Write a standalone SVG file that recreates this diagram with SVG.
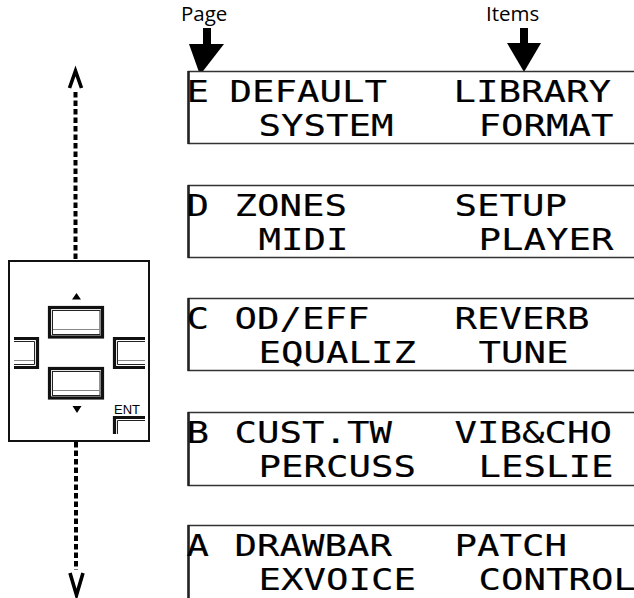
<svg xmlns="http://www.w3.org/2000/svg" width="634" height="598" viewBox="0 0 634 598">
<defs>
<style>
.lcd{font-family:"DejaVu Sans Mono","Liberation Mono",monospace;font-size:31px;fill:#000;stroke:#000;stroke-width:0.15}
.lbl{font-family:"Open Sans","Liberation Sans",sans-serif;font-size:20.5px;fill:#000}
.panel{fill:#fff;stroke:#333;stroke-width:1.5}
.pedge{stroke:#222;stroke-width:2.5}
.key{fill:none;stroke:#111;stroke-width:3.2}
.thin{fill:none;stroke:#222;stroke-width:1}
.hl{fill:none;stroke:#888;stroke-width:1}
.dash{fill:none;stroke:#000;stroke-width:4;stroke-dasharray:5.5 3}
.chev{fill:none;stroke:#000;stroke-width:3.6;stroke-linejoin:miter}
</style>
</defs>
<rect width="634" height="598" fill="#fff"/>

<g id="connectors">
  <path class="dash" d="M75.5 92 V261"/>
  <path class="chev" d="M69.5 88 L75.5 71 L81.5 88"/>
  <path class="dash" d="M76 442 V570"/>
  <path class="chev" d="M70 573 L76.5 595 L83 573"/>
  <rect x="203" y="28" width="8" height="17" fill="#000"/>
  <polygon points="189,44 224,44 200,75" fill="#000"/>
  <rect x="520" y="28" width="8" height="16" fill="#000"/>
  <polygon points="507,43 541,43 524,72" fill="#000"/>
</g>

<g id="label-page"><text class="lbl" x="181" y="21">Page</text></g>
<g id="label-items"><text class="lbl" x="486" y="21">Items</text></g>

<g id="keypad">
  <rect x="9" y="261" width="140" height="180" fill="#fff" stroke="#111" stroke-width="2"/>
  <polygon points="72,299.5 81,299.5 76.5,293" fill="#000"/>
  <polygon points="72.5,406 81.5,406 77,413" fill="#000"/>
  <rect class="key" x="49.5" y="307.5" width="53" height="29.5"/>
  <rect class="thin" x="52.5" y="310.5" width="47.5" height="24"/>
  <line class="hl" x1="53" y1="329.5" x2="99.5" y2="329.5"/>
  <rect class="key" x="49.5" y="368.5" width="53" height="29.5"/>
  <rect class="thin" x="52.5" y="371.5" width="47.5" height="24"/>
  <line class="hl" x1="53" y1="390.5" x2="99.5" y2="390.5"/>
  <path class="key" d="M14 338.5 H37.5 V367.5 H14"/>
  <path class="thin" d="M14 341.5 H34.5 V364.5 H14"/>
  <line class="hl" x1="14" y1="360.5" x2="34" y2="360.5"/>
  <path class="key" d="M145 338.5 H114.5 V367.5 H145"/>
  <path class="thin" d="M145 341.5 H117.5 V364.5 H145"/>
  <line class="hl" x1="118" y1="360.5" x2="145" y2="360.5"/>
  <text x="114" y="413.5" font-family="'Liberation Sans',sans-serif" font-size="13.5" textLength="26" lengthAdjust="spacingAndGlyphs">ENT</text>
  <path class="key" d="M145 417.5 H114.5 V434"/>
  <path class="thin" d="M145 420.5 H117.5 V434"/>
</g>

<g id="panel-E">
  <rect class="panel" x="188.5" y="71.5" width="460" height="72"/>
  <line class="pedge" x1="188.5" y1="71" x2="188.5" y2="144"/>
  <text class="lcd" x="186.5" y="101.5" textLength="22.5" lengthAdjust="spacingAndGlyphs">E</text>
  <text class="lcd" x="229.5" y="101.5" textLength="157.5" lengthAdjust="spacingAndGlyphs">DEFAULT</text>
  <text class="lcd" x="453.5" y="101.5" textLength="157.5" lengthAdjust="spacingAndGlyphs">LIBRARY</text>
  <text class="lcd" x="258.5" y="135.5" textLength="135" lengthAdjust="spacingAndGlyphs">SYSTEM</text>
  <text class="lcd" x="478.5" y="135.5" textLength="135" lengthAdjust="spacingAndGlyphs">FORMAT</text>
</g>

<g id="panel-D">
  <rect class="panel" x="188.5" y="185.5" width="460" height="72"/>
  <line class="pedge" x1="188.5" y1="185" x2="188.5" y2="258"/>
  <text class="lcd" x="186.5" y="215.5" textLength="22.5" lengthAdjust="spacingAndGlyphs">D</text>
  <text class="lcd" x="234.5" y="215.5" textLength="112.5" lengthAdjust="spacingAndGlyphs">ZONES</text>
  <text class="lcd" x="454.5" y="215.5" textLength="112.5" lengthAdjust="spacingAndGlyphs">SETUP</text>
  <text class="lcd" x="258.5" y="249.5" textLength="90" lengthAdjust="spacingAndGlyphs">MIDI</text>
  <text class="lcd" x="478.5" y="249.5" textLength="135" lengthAdjust="spacingAndGlyphs">PLAYER</text>
</g>

<g id="panel-C">
  <rect class="panel" x="188.5" y="298.5" width="460" height="72"/>
  <line class="pedge" x1="188.5" y1="298" x2="188.5" y2="371"/>
  <text class="lcd" x="186.5" y="328.5" textLength="22.5" lengthAdjust="spacingAndGlyphs">C</text>
  <text class="lcd" x="234.5" y="328.5" textLength="135" lengthAdjust="spacingAndGlyphs">OD/EFF</text>
  <text class="lcd" x="454.5" y="328.5" textLength="135" lengthAdjust="spacingAndGlyphs">REVERB</text>
  <text class="lcd" x="258.5" y="362.5" textLength="157.5" lengthAdjust="spacingAndGlyphs">EQUALIZ</text>
  <text class="lcd" x="478.5" y="362.5" textLength="90" lengthAdjust="spacingAndGlyphs">TUNE</text>
</g>

<g id="panel-B">
  <rect class="panel" x="188.5" y="412.5" width="460" height="73"/>
  <line class="pedge" x1="188.5" y1="412" x2="188.5" y2="486"/>
  <text class="lcd" x="186.5" y="442.5" textLength="22.5" lengthAdjust="spacingAndGlyphs">B</text>
  <text class="lcd" x="234.5" y="442.5" textLength="157.5" lengthAdjust="spacingAndGlyphs">CUST.TW</text>
  <text class="lcd" x="454.5" y="442.5" textLength="157.5" lengthAdjust="spacingAndGlyphs">VIB&amp;CHO</text>
  <text class="lcd" x="258.5" y="476.5" textLength="157.5" lengthAdjust="spacingAndGlyphs">PERCUSS</text>
  <text class="lcd" x="478.5" y="476.5" textLength="135" lengthAdjust="spacingAndGlyphs">LESLIE</text>
</g>

<g id="panel-A">
  <rect class="panel" x="188.5" y="525.5" width="460" height="76"/>
  <line class="pedge" x1="188.5" y1="525" x2="188.5" y2="600"/>
  <text class="lcd" x="186.5" y="555.5" textLength="22.5" lengthAdjust="spacingAndGlyphs">A</text>
  <text class="lcd" x="234.5" y="555.5" textLength="157.5" lengthAdjust="spacingAndGlyphs">DRAWBAR</text>
  <text class="lcd" x="454.5" y="555.5" textLength="112.5" lengthAdjust="spacingAndGlyphs">PATCH</text>
  <text class="lcd" x="258.5" y="589.5" textLength="157.5" lengthAdjust="spacingAndGlyphs">EXVOICE</text>
  <text class="lcd" x="478.5" y="589.5" textLength="157.5" lengthAdjust="spacingAndGlyphs">CONTROL</text>
</g>
</svg>
